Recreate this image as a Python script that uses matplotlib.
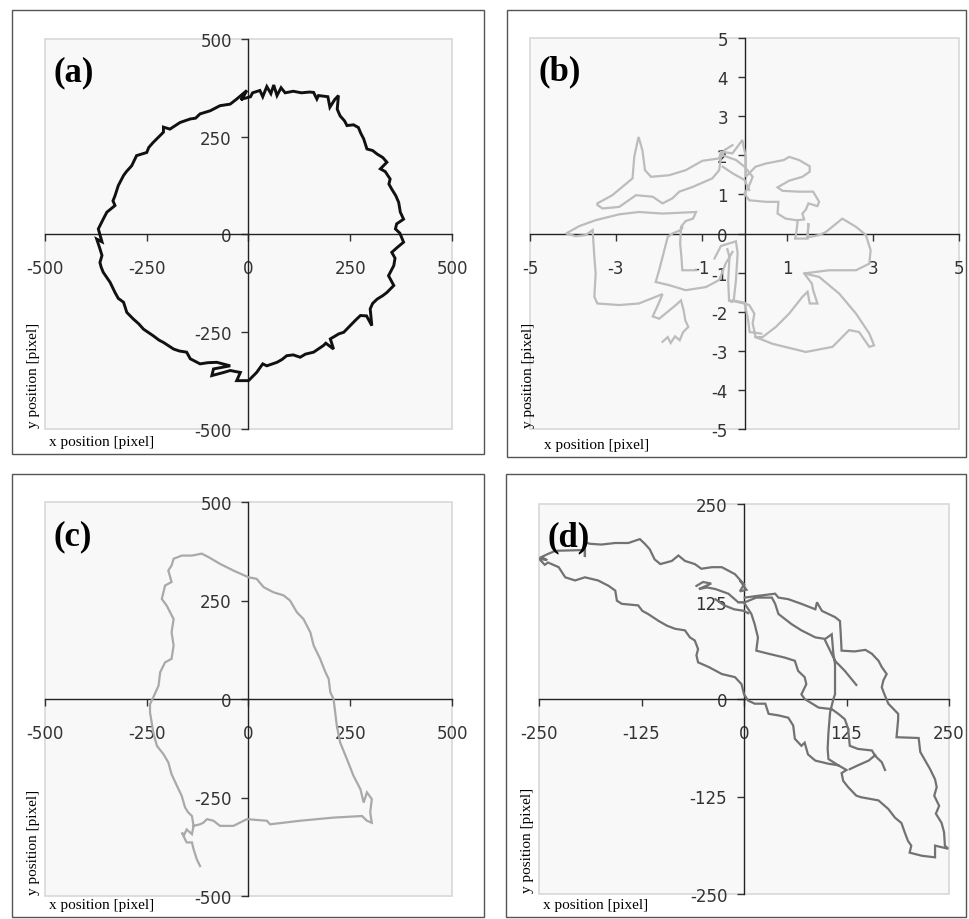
import numpy as np
import matplotlib
matplotlib.use('Agg')
import matplotlib.pyplot as plt
from matplotlib.patches import Rectangle

plt.rcParams['font.family'] = ['Liberation Serif', 'DejaVu Serif']
plt.rcParams['axes.unicode_minus'] = False

nan = np.nan

# (a) circular trajectory
a_x = [-16, 5, 10, 28, 35, 45, 55, 62, 70, 80, 90, 110, 130, 150, 160, 168, 172, 195, 200, 212, 221, 218, 225,
       236, 242, 258, 270, 276, 283, 291, 305, 316, 330, 340, 324, 336, 348, 345, 352, 362, 369, 373, 381, 364,
       361, 372, 381, 366, 352, 360, 357, 344, 357, 340, 330, 316, 305, 299, 303, 290, 275, 262, 250, 234, 222,
       201, 209, 190, 184, 160, 140, 127, 110, 94, 82, 70, 45, 35, 20, 0, -29, -20, -45, -61, -90, -86, -45,
       -78, -100, -119, -143, -152, -170, -184, -209, -220, -234, -258, -270, -283, -299, -307, -320, -328,
       -340, -357, -362, -365, -360, -365, -373, -360, -369, -357, -348, -328, -333, -328, -320, -307, -300,
       -287, -275, -250, -245, -234, -209, -209, -193, -168, -143, -130, -119, -94, -70, -45, -29, -4, -16]
a_y = [346, 352, 362, 368, 352, 378, 360, 382, 355, 375, 362, 366, 362, 364, 363, 346, 355, 352, 325, 345, 355,
       320, 303, 290, 278, 280, 273, 258, 244, 218, 214, 205, 196, 184, 167, 160, 141, 128, 115, 98, 81, 56, 38,
       26, 13, 2, -21, -34, -47, -62, -81, -107, -132, -150, -158, -167, -178, -192, -235, -210, -209, -222,
       -235, -252, -256, -269, -295, -280, -286, -303, -308, -316, -310, -312, -322, -329, -338, -333, -355,
       -376, -376, -355, -350, -355, -363, -346, -338, -329, -330, -333, -320, -303, -300, -295, -278, -272,
       -261, -244, -230, -218, -201, -175, -165, -150, -124, -98, -85, -73, -55, -38, -13, -20, 13, 38, 56, 73,
       85, 98, 124, 150, 160, 175, 201, 209, 222, 235, 261, 274, 269, 286, 295, 297, 308, 316, 329, 333, 346,
       368, 346]

# (b) small random walk, pieces separated by nan
b_x = [-1.91, -1.79, -1.72, -1.62, -1.51, -1.43, -1.31, -1.38, -1.42, -1.48, -1.60, -1.99, -2.14, -2.03, -1.91,
       -2.46, -2.92, -3.43, -3.50, -3.47, -3.50, -3.54, -3.70, -3.93, -4.16, -3.85, -3.47, -2.92, -2.46, -1.91,
       -1.52, -1.13, -1.20, -1.37, -1.48, -1.50, -1.47, -1.45, -1.13, nan,
       -0.28, -0.44, -0.59, -0.90, -1.37, -1.76, -2.07, -1.99, -1.91, -1.79, -1.68, -1.48, -1.45, nan,
       -0.28, -0.47, -0.55, -0.59, -0.75, -1.21, -1.52, -1.68, -1.91, -2.14, -2.53, -2.92, -3.31, -3.43, -3.43,
       -3.08, -2.61, -2.57, -2.47, -2.38, -2.32, -2.18, -1.76, -1.37, -0.98, -0.59, -0.55, -0.28, -0.05, 0.03,
       0.03, 0.26, 0.50, 0.92, 1.04, 1.27, 1.52, 1.52, 1.35, 1.04, 0.77, 0.89, 1.27, 1.60, 1.74, 1.70, 1.49,
       1.43, 1.35, 1.39, 1.24, 1.21, 1.18, 1.47, 1.49, 1.47, 1.74, 1.90, 2.28, 2.60, 2.83, 2.94, 2.91, 2.60,
       1.97, 1.39, 1.74, 2.21, 2.60, 2.91, 3.02, 2.91, 2.67, 2.44, 2.05, 1.43, 0.65, 0.26, 0.19, 0.23, 0.11,
       0.0, -0.36, nan,
       1.39, 1.57, 1.60, 1.70, 1.52, 1.47, 1.35, 1.04, 0.73, 0.42, 0.26, nan,
       -0.70, -0.55, -0.20, -0.16, -0.20, -0.25, -0.30, -0.36, -0.38, -0.35, -0.40, nan,
       0.0, 0.11, 0.50, 0.79, 0.77, 0.96, 1.21, nan,
       -0.51, -0.20, 0.0, 0.19, 0.10, 0.0, nan,
       -0.51, -0.28, 0.0, 0.11, nan,
       -0.27, 0.0, 0.08, 0.12, 0.39]
b_y = [-2.77, -2.65, -2.80, -2.63, -2.73, -2.52, -2.39, -2.22, -1.96, -1.71, -1.83, -2.18, -2.12, -1.86, -1.55,
       -1.79, -1.83, -1.79, -1.62, -1.02, -0.60, 0.09, -0.04, -0.07, 0.0, 0.19, 0.34, 0.49, 0.55, 0.51, 0.53,
       0.55, 0.38, 0.32, 0.17, -0.26, -0.60, -0.94, -0.94, nan,
       -0.47, -0.77, -1.19, -1.37, -1.45, -1.32, -1.24, -0.94, -0.60, -0.09, 0.0, 0.09, 0.15, nan,
       2.26, 2.13, 1.96, 1.62, 1.41, 1.19, 1.07, 0.90, 0.77, 0.94, 0.98, 0.68, 0.64, 0.73, 0.77, 0.98, 1.41,
       1.96, 2.47, 2.13, 1.62, 1.45, 1.49, 1.62, 1.86, 1.92, 2.09, 2.05, 2.39, 1.96, 1.45, 1.71, 1.79, 1.88,
       1.96, 1.88, 1.72, 1.58, 1.45, 1.35, 1.18, 1.09, 1.07, 1.07, 0.81, 0.70, 0.77, 0.61, 0.51, 0.36, 0.34,
       0.04, -0.13, -0.13, 0.26, -0.10, -0.04, 0.04, 0.38, 0.17, -0.04, -0.43, -0.77, -0.94, -0.94, -1.02,
       -1.11, -1.54, -2.05, -2.56, -2.86, -2.90, -2.52, -2.47, -2.90, -3.03, -2.82, -2.65, -2.30, -2.05, -1.83,
       -1.79, -1.71, nan,
       -1.02, -1.28, -1.45, -1.79, -1.79, -1.49, -1.62, -2.05, -2.39, -2.65, -2.65, nan,
       -0.64, -0.32, -0.20, -0.50, -1.20, -1.70, -1.75, -1.71, -1.20, -0.60, -0.40, nan,
       1.02, 0.85, 0.81, 0.81, 0.51, 0.38, 0.34, nan,
       2.00, 1.88, 1.71, 1.45, 1.20, 1.02, nan,
       1.71, 1.54, 1.37, 1.11, nan,
       -1.71, -1.77, -2.18, -2.52, -2.56]

# (c) loop trajectory
c_x = [-119, -127, -135, -139, -152, -164, -158, -152, -139, -135, -139, -148, -156, -164, -176, -189, -197,
       -209, -225, -234, -238, -242, -242, -234, -221, -217, -205, -189, -184, -189, -184, -201, -213, -205,
       -189, -197, -189, -184, -164, -139, -115, -98, -70, -37, 0, 20, 37, 61, 86, 102, 119, 135, 152, 160,
       176, 189, 197, 201, 209, 213, 217, 225, 242, 258, 275, 283, 291, 303, 299, 303, 291, 279, 209, 127, 53,
       45, -4, -37, -70, -86, -102, -111, -119, -135]
c_y = [-424, -407, -381, -364, -364, -339, -345, -331, -343, -322, -297, -288, -275, -246, -220, -191, -161,
       -140, -119, -85, -59, -34, -13, 4, 34, 68, 93, 102, 136, 169, 203, 237, 254, 288, 297, 326, 339, 356,
       364, 364, 369, 360, 343, 326, 309, 305, 284, 271, 263, 250, 220, 203, 169, 136, 102, 68, 51, 17, 0,
       -34, -68, -110, -153, -195, -229, -263, -237, -254, -288, -314, -309, -297, -301, -309, -318, -309,
       -305, -322, -322, -309, -305, -314, -318, -322]

# (d) diagonal trajectory, pieces separated by nan
d_x = [0, -5, 3, -5, 0, -11, -27, -39, -52, -60, -72, -80, -88, -102, -109, -115, -121, -127, -141, -157, -174,
       -188, -194, -194, -194, -230, -239, -247, -240, -250, -243, -239, -226, -218, -206, -194, -178, -165,
       -157, -155, -149, -129, -124, -117, -104, -94, -84, -72, -66, -60, -56, -58, -56, -43, -27, -11, -3, 0,
       5, 13, 26, 30, 42, 54, 60, 62, 70, 74, 78, 87, 103, 115, 125, 119, 121, 127, 137, 143, 164, 176, 184,
       192, 196, 200, 204, 202, 217, 233, 233, 249, 245, 244, 241, 234, 238, 232, 235, 233, 227, 221, 215,
       213, 186, 188, 188, 176, 172, 168, 170, 174, 168, 164, 156, 148, 135, 119, 118, 117, 111, 103, 95, 89,
       87, 70, 54, 42, 38, 30, 15, 1, nan,
       -58, -50, -40, -55, -45, -35, -19, -7, 1, 15, 34, 38, 42, 58, 70, 87, 99, 107, 109, 111, 111, 109, 105,
       103, 102, 103, 115, nan,
       1, 9, 13, 17, 15, 30, 50, 62, 66, 74, 76, 70, 74, 91, 107, 115, 123, 127, 129, 139, 156, 160, 168, 172,
       nan,
       160, 152, 139, 129, nan,
       99, 111, 123, 137, nan,
       -35, -24, -12, 0, 5]
d_y = [147, 152, 140, 138, 147, 160, 169, 169, 167, 173, 177, 184, 177, 173, 179, 192, 199, 205, 200, 200, 198,
       199, 201, 182, 191, 190, 186, 182, 178, 180, 172, 175, 169, 156, 152, 156, 152, 145, 139, 126, 122, 120,
       113, 109, 100, 94, 90, 88, 79, 75, 64, 56, 47, 41, 32, 28, 19, 6, -2, -6, -6, -19, -21, -24, -34, -51,
       -60, -56, -71, -79, -83, -85, -91, -95, -105, -113, -124, -126, -130, -141, -152, -159, -171, -182,
       -188, -197, -201, -203, -188, -192, -188, -171, -159, -147, -137, -124, -113, -103, -90, -79, -68, -50,
       -49, -26, -19, -6, 4, 15, 24, 32, 41, 49, 58, 63, 61, 62, 83, 100, 105, 109, 113, 124, 115, 122, 128,
       130, 135, 134, 132, 130, nan,
       145, 150, 148, 141, 143, 141, 135, 124, 124, 130, 130, 122, 109, 96, 88, 79, 77, 83, 58, 45, 6, 0, -17,
       -43, -64, -77, -85, nan,
       122, 109, 96, 79, 62, 58, 53, 49, 36, 28, 19, 6, 0, -11, -13, -19, -26, -38, -60, -64, -66, -73, -81,
       -91, nan,
       -72, -79, -85, -90, nan,
       75, 49, 36, 18, nan,
       128, 120, 115, 113, 110]

ab_ticks = [-500, -250, 0, 250, 500]
b_xticks = [-5, -3, -1, 1, 3, 5]
b_yticks = [-5, -4, -3, -2, -1, 0, 1, 2, 3, 4, 5]
d_ticks = [-250, -125, 0, 125, 250]

W, H = 969, 920
fig = plt.figure(figsize=(W / 100, H / 100), dpi=100)


def px(l, t, r, b):
    # pixel box (left, top, right, bottom) -> figure fraction rect
    return [l / W, 1 - b / H, (r - l) / W, (b - t) / H]


panels = [
    # plot area, outer frame, data, colour, lw, limits, xticks, yticks, tag
    (px(45, 40, 452, 430), px(12, 11, 484, 455), a_x, a_y, '#111111', 2.1, 500, ab_ticks, ab_ticks, '(a)'),
    (px(530, 39, 959, 430), px(507, 11, 966, 458), b_x, b_y, '#bcbcbc', 1.6, 5, b_xticks, b_yticks, '(b)'),
    (px(45, 503, 452, 897), px(12, 475, 484, 918), c_x, c_y, '#a9a9a9', 1.6, 500, ab_ticks, ab_ticks, '(c)'),
    (px(539, 505, 949, 895), px(506, 475, 966, 918), d_x, d_y, '#727272', 1.6, 250, d_ticks, d_ticks, '(d)'),
]

tick_font = {'family': 'DejaVu Sans', 'size': 12}

for rect, frame, xs, ys, col, lw, lim, xt, yt, tag in panels:
    fig.add_artist(Rectangle((frame[0], frame[1]), frame[2], frame[3], transform=fig.transFigure,
                             fill=False, ec='#555555', lw=1.0))
    ax = fig.add_axes(rect)
    ax.set_facecolor('#f8f8f8')
    ax.add_patch(Rectangle((0, 0), 1, 1, transform=ax.transAxes, fill=False, ec='#d8d8d8', lw=1.2,
                           clip_on=False))
    ax.plot(xs, ys, color=col, lw=lw, solid_joinstyle='miter', zorder=3)
    ax.set_xlim(-lim, lim)
    ax.set_ylim(-lim, lim)
    for s in ['top', 'right']:
        ax.spines[s].set_visible(False)
    ax.spines['left'].set_position('zero')
    ax.spines['bottom'].set_position('zero')
    for s in ['left', 'bottom']:
        ax.spines[s].set_color('#222222')
        ax.spines[s].set_linewidth(1.0)
    ax.set_xticks(xt)
    ax.set_xticklabels([str(v) for v in xt], fontdict=tick_font)
    ax.set_yticks(yt)
    ax.set_yticklabels([str(v) for v in yt], fontdict=tick_font)
    ax.tick_params(axis='x', direction='out', length=5, width=1, pad=13, colors='#333333')
    ax.tick_params(axis='y', direction='out', length=5, width=1, pad=7, colors='#333333')
    ax.text(0.02, 0.915, tag, transform=ax.transAxes, fontsize=25, fontweight='bold',
            va='center', ha='left')
    # axis titles, placed at the lower left of each frame
    fx, fy = frame[0], frame[1]
    fig.text(fx + 0.038, fy + 0.006, 'x position [pixel]', fontsize=11, va='bottom', ha='left')
    fig.text(fx + 0.022, rect[1] + 0.002, 'y position [pixel]', fontsize=11, rotation=90,
             va='bottom', ha='center')

fig.savefig('out.png', dpi=100)
